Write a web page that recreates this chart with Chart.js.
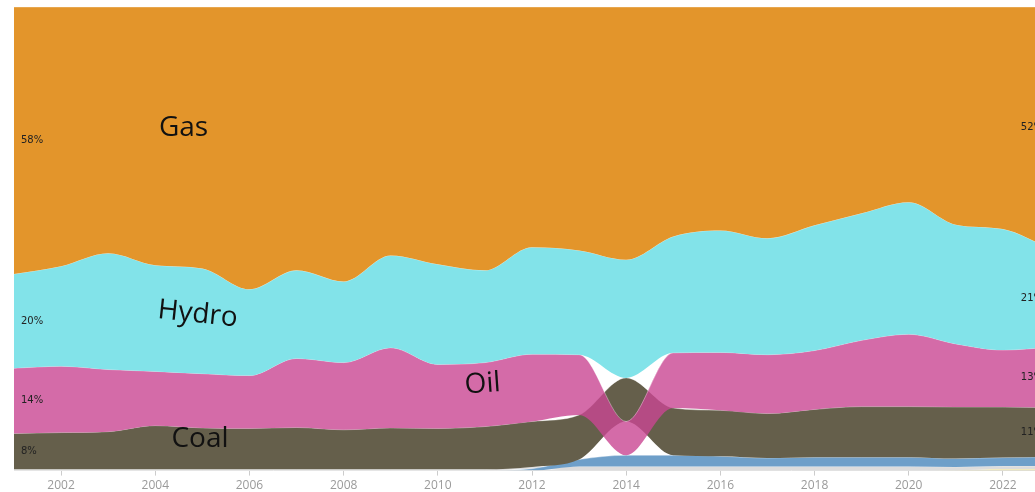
<!DOCTYPE html>
<html lang="en">
<head>
<meta charset="UTF-8">
<title>Electricity mix</title>
<script src="https://cdn.jsdelivr.net/npm/chart.js"></script>
<style>
  html, body { margin: 0; padding: 0; background: #fff; overflow: hidden; }
  .chart-box { position: relative; width: 1060px; height: 492px; }
</style>
</head>
<body>
<div class="chart-box"><canvas id="mixChart"></canvas></div>

<script>
// years and axis ticks
const years = [2001, 2002, 2003, 2004, 2005, 2006, 2007, 2008, 2009, 2010, 2011, 2012,
               2013, 2014, 2015, 2016, 2017, 2018, 2019, 2020, 2021, 2022, 2023];
const tickYears = [2002, 2004, 2006, 2008, 2010, 2012, 2014, 2016, 2018, 2020, 2022];

// share of generation (%)
const gas   = [57.6, 55.9, 53.1, 55.7, 56.4, 60.9, 56.8, 59.2, 53.6, 55.5, 56.8, 51.8,
               52.5, 54.5, 49.5, 48.2, 49.9, 47.1, 44.5, 42.1, 46.9, 47.9, 52.1];
const hydro = [20.3, 21.6, 25.1, 22.9, 22.7, 18.6, 19.0, 17.5, 19.9, 21.6, 19.9, 23.1,
               22.5, 25.5, 25.1, 26.3, 25.1, 27.0, 27.4, 28.5, 25.7, 26.1, 21.3];
const oil   = [14.1, 14.3, 13.4, 11.7, 11.7, 11.4, 14.9, 14.5, 17.3, 13.8, 13.8, 14.5,
               13.0,  7.3, 11.9, 12.5, 12.7, 12.7, 14.3, 15.6, 13.6, 12.3, 13.0];
const coal  = [ 7.7,  7.9,  8.1,  9.4,  8.9,  8.8,  9.0,  8.5,  8.9,  8.8,  9.2,  9.8,
                9.6,  9.4, 10.2,  9.9,  9.6, 10.3, 10.9, 10.9, 11.1, 10.9, 10.6];
const wind  = [ 0.0,  0.0,  0.0,  0.0,  0.0,  0.0,  0.0,  0.0,  0.0,  0.0,  0.0,  0.4,
                1.5,  2.4,  2.4,  2.2,  1.8,  2.0,  2.0,  2.0,  1.8,  1.8,  2.0];
const other = [ 0.3,  0.3,  0.3,  0.3,  0.3,  0.3,  0.3,  0.3,  0.3,  0.3,  0.3,  0.4,
                0.9,  0.9,  0.9,  0.9,  0.9,  0.9,  0.9,  0.9,  0.7,  0.7,  0.7];
const solar = [ 0.0,  0.0,  0.0,  0.0,  0.0,  0.0,  0.0,  0.0,  0.0,  0.0,  0.0,  0.0,
                0.0,  0.0,  0.0,  0.0,  0.0,  0.0,  0.0,  0.0,  0.1,  0.3,  0.3];

// draw order: first entry ends up on top
const series = [
  { name: 'Gas',   values: gas,   color: '#E3952B', label: true },
  { name: 'Hydro', values: hydro, color: '#82E3E9', label: true },
  { name: 'Oil',   values: oil,   color: 'rgba(201,70,146,0.8)', label: true },
  { name: 'Coal',  values: coal,  color: '#655F4B', label: true },
  { name: 'Wind',  values: wind,  color: '#6E9FC9' },
  { name: 'Other', values: other, color: '#DCDCDC' },
  { name: 'Solar', values: solar, color: '#F7E37B' }
];

// ranked 100% stack: smallest at the bottom each year
const bands = series.map(() => ({ lo: [], hi: [] }));
years.forEach((yr, i) => {
  const total = series.reduce((s, d) => s + d.values[i], 0);
  const order = series.map((d, k) => k).sort((a, b) => series[a].values[i] - series[b].values[i]);
  let base = 0;
  order.forEach(k => {
    const share = series[k].values[i] / total * 100;
    bands[k].lo.push({ x: yr, y: base });
    bands[k].hi.push({ x: yr, y: base + share });
    base += share;
  });
});

const datasets = [];
series.forEach((s, k) => {
  datasets.push({
    label: s.name + ' base',
    data: bands[k].lo,
    borderWidth: 0,
    borderColor: 'transparent',
    fill: false
  });
  datasets.push({
    label: s.name,
    data: bands[k].hi,
    borderWidth: 1,
    borderColor: 'rgba(255,255,255,0.35)',
    backgroundColor: s.color,
    fill: '-1'
  });
});

// big in-chart names
const nameLabels = [
  { text: 'Gas',   x: 2004.6, y: 74.0, rot: 0 },
  { text: 'Hydro', x: 2004.9, y: 33.7, rot: 6 },
  { text: 'Oil',   x: 2010.95, y: 18.6, rot: -4 },
  { text: 'Coal',  x: 2004.95, y: 6.8,  rot: 0 }
];

const labelPlugin = {
  id: 'areaLabels',
  afterDatasetsDraw(chart) {
    const { ctx, scales: { x, y } } = chart;
    ctx.save();
    ctx.fillStyle = '#111';
    ctx.font = '28px "Open Sans", sans-serif';
    ctx.textAlign = 'center';
    ctx.textBaseline = 'middle';
    nameLabels.forEach(l => {
      ctx.save();
      ctx.translate(x.getPixelForValue(l.x), y.getPixelForValue(l.y));
      ctx.rotate(l.rot * Math.PI / 180);
      ctx.fillText(l.text, 0, 0);
      ctx.restore();
    });

    // start / end percentages
    ctx.font = '10px "DejaVu Sans", sans-serif';
    ctx.fillStyle = '#222';
    const last = years.length - 1;
    series.forEach((s, k) => {
      if (!s.label) return;
      const band = bands[k];
      const a = (band.lo[0].y + band.hi[0].y) / 2;
      ctx.textAlign = 'left';
      ctx.fillText(Math.round(band.hi[0].y - band.lo[0].y) + '%', chart.chartArea.left + 7, y.getPixelForValue(a));
      const b = (band.lo[last].y + band.hi[last].y) / 2;
      ctx.textAlign = 'right';
      ctx.fillText(Math.round(band.hi[last].y - band.lo[last].y) + '%', x.getPixelForValue(years[last]) - 7, y.getPixelForValue(b));
    });
    ctx.restore();
  }
};

new Chart(document.getElementById('mixChart').getContext('2d'), {
  type: 'line',
  data: { datasets },
  options: {
    responsive: true,
    maintainAspectRatio: false,
    animation: false,
    layout: { padding: { left: 14, right: 10, top: 7, bottom: -4 } },
    elements: {
      point: { radius: 0, hoverRadius: 0 },
      line: { cubicInterpolationMode: 'monotone' }
    },
    plugins: {
      legend: { display: false },
      tooltip: { enabled: false }
    },
    scales: {
      x: {
        type: 'linear',
        min: years[0],
        max: years[years.length - 1],
        afterBuildTicks: axis => { axis.ticks = tickYears.map(v => ({ value: v })); },
        ticks: {
          callback: v => String(v),
          color: '#9a9a9a',
          font: { family: '"Open Sans", sans-serif', size: 12 },
          maxRotation: 0,
          autoSkip: false,
          padding: 3
        },
        grid: { drawOnChartArea: false, drawTicks: true, tickLength: 5, color: '#cccccc' },
        border: { display: true, color: '#dddddd', width: 1 }
      },
      y: { display: false, min: 0, max: 100 }
    }
  },
  plugins: [labelPlugin]
});
</script>
</body>
</html>
